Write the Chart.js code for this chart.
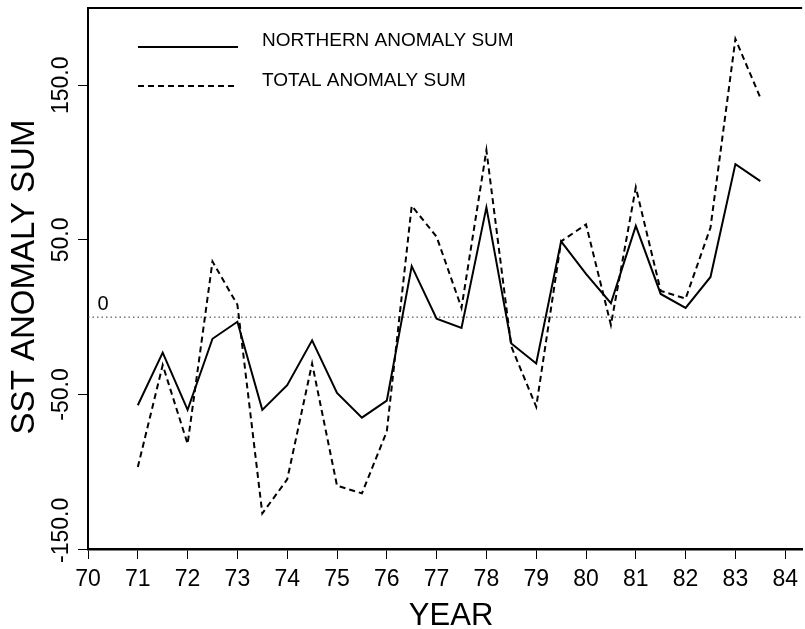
<!DOCTYPE html>
<html lang="en">
  <head>
    <meta charset="UTF-8" />
    <title>SST Anomaly Sum</title>
    <script src="https://cdn.jsdelivr.net/npm/chart.js@4.4.1/dist/chart.umd.min.js"></script>
    <style>
      html, body { margin: 0; padding: 0; background: #fff; }
      #wrap { width: 805px; height: 629px; }
    </style>
  </head>
  <body>
    <div id="wrap"><canvas id="chart"></canvas></div>

    <script>
      // half-year steps
      const years = [71, 71.5, 72, 72.5, 73, 73.5, 74, 74.5, 75, 75.5, 76, 76.5, 77,
                     77.5, 78, 78.5, 79, 79.5, 80, 80.5, 81, 81.5, 82, 82.5, 83, 83.5];
      const northern = [-57, -23, -60, -14, -3, -60, -44, -15, -49, -65, -54, 33, -1,
                        -7, 71, -17, -30, 49, 28, 9, 59, 15, 6, 26, 99, 88];
      const total = [-97, -31, -82, 36, 8, -127, -105, -30, -109, -114, -74, 72, 52,
                     6, 108, -19, -58, 49, 60, -5, 84, 17, 12, 58, 180, 142];
      const xTicks = [70, 71, 72, 73, 74, 75, 76, 77, 78, 79, 80, 81, 82, 83, 84];
      const yTicks = [-150, -50, 50, 150];
      const yTickLabels = ['-150.0', '-50.0', '50.0', '150.0'];
      const legendLabels = ['NORTHERN ANOMALY SUM', 'TOTAL ANOMALY SUM'];

      const font = '"Liberation Sans", Arial, sans-serif';

      function pts(vals) {
        return years.map((x, i) => ({ x: x, y: vals[i] }));
      }

      // frame, zero line, rotated y labels, legend and titles
      const decor = {
        id: 'decor',
        beforeDatasetsDraw(chart) {
          const ctx = chart.ctx, a = chart.chartArea, y = chart.scales.y;
          const y0 = y.getPixelForValue(0);
          ctx.save();
          ctx.strokeStyle = '#333';
          ctx.lineWidth = 1;
          ctx.setLineDash([1.5, 3]);
          ctx.beginPath();
          ctx.moveTo(a.left, y0);
          ctx.lineTo(a.right, y0);
          ctx.stroke();
          ctx.restore();
        },
        afterDraw(chart) {
          const ctx = chart.ctx, a = chart.chartArea, y = chart.scales.y;
          ctx.save();
          ctx.strokeStyle = '#000';
          ctx.lineWidth = 2;
          ctx.beginPath();
          ctx.moveTo(a.left, a.top);
          ctx.lineTo(a.right, a.top);
          ctx.stroke();

          ctx.fillStyle = '#000';
          // y tick labels, rotated; keep the lowest one from hanging past the axis
          ctx.font = '23px ' + font;
          ctx.textAlign = 'center';
          ctx.textBaseline = 'middle';
          yTicks.forEach((v, i) => {
            const w = ctx.measureText(yTickLabels[i]).width;
            let py = y.getPixelForValue(v);
            if (py + w / 2 > a.bottom + 14) py = a.bottom + 14 - w / 2;
            ctx.save();
            ctx.translate(62, py);
            ctx.rotate(-Math.PI / 2);
            ctx.fillText(yTickLabels[i], 0, 0);
            ctx.restore();
          });

          // zero label
          ctx.font = '20px ' + font;
          ctx.fillText('0', 103, y.getPixelForValue(0) - 13);

          // axis titles
          ctx.font = '31px ' + font;
          ctx.fillText('YEAR', (a.left + a.right) / 2 + 6, 616);
          ctx.save();
          ctx.translate(25, 277);
          ctx.rotate(-Math.PI / 2);
          ctx.font = '33px ' + font;
          ctx.fillText('SST ANOMALY SUM', 0, 0);
          ctx.restore();

          // legend
          ctx.lineWidth = 2;
          ctx.beginPath();
          ctx.moveTo(138, 47);
          ctx.lineTo(238, 47);
          ctx.stroke();
          ctx.setLineDash([6, 4]);
          ctx.beginPath();
          ctx.moveTo(138, 86);
          ctx.lineTo(238, 86);
          ctx.stroke();
          ctx.setLineDash([]);
          ctx.font = '19px ' + font;
          ctx.textAlign = 'left';
          ctx.fillText(legendLabels[0], 262, 41);
          ctx.fillText(legendLabels[1], 262, 81);
          ctx.restore();
        }
      };

      const ctx = document.getElementById('chart').getContext('2d');
      const myChart = new Chart(ctx, {
        type: 'line',
        data: {
          datasets: [{
            label: legendLabels[0],
            data: pts(northern),
            borderColor: '#000',
            borderWidth: 2,
            pointRadius: 0,
            tension: 0,
            fill: false
          }, {
            label: legendLabels[1],
            data: pts(total),
            borderColor: '#000',
            borderWidth: 2,
            borderDash: [6, 4],
            pointRadius: 0,
            tension: 0,
            fill: false
          }]
        },
        options: {
          responsive: true,
          maintainAspectRatio: false,
          animation: false,
          layout: { padding: { top: 8, left: 0, right: 0, bottom: 0 } },
          plugins: { legend: { display: false }, tooltip: { enabled: false } },
          scales: {
            x: {
              type: 'linear',
              min: 70,
              max: 84.34,
              afterBuildTicks: s => { s.ticks = xTicks.map(v => ({ value: v })); },
              afterFit: s => { s.height = 80; },
              grid: { drawOnChartArea: false, drawTicks: true, tickLength: 10, color: '#000', lineWidth: 1 },
              border: { color: '#000', width: 2.5 },
              ticks: { autoSkip: false, maxRotation: 0, padding: 7, color: '#000', font: { family: font, size: 23 } }
            },
            y: {
              type: 'linear',
              min: -150,
              max: 200,
              afterBuildTicks: s => { s.ticks = yTicks.map(v => ({ value: v })); },
              afterFit: s => { s.width = 88; },
              grid: { drawOnChartArea: false, drawTicks: true, tickLength: 10, color: '#000', lineWidth: 1 },
              border: { color: '#000', width: 2 },
              ticks: { display: false }
            }
          }
        },
        plugins: [decor]
      });
    </script>
  </body>
</html>
